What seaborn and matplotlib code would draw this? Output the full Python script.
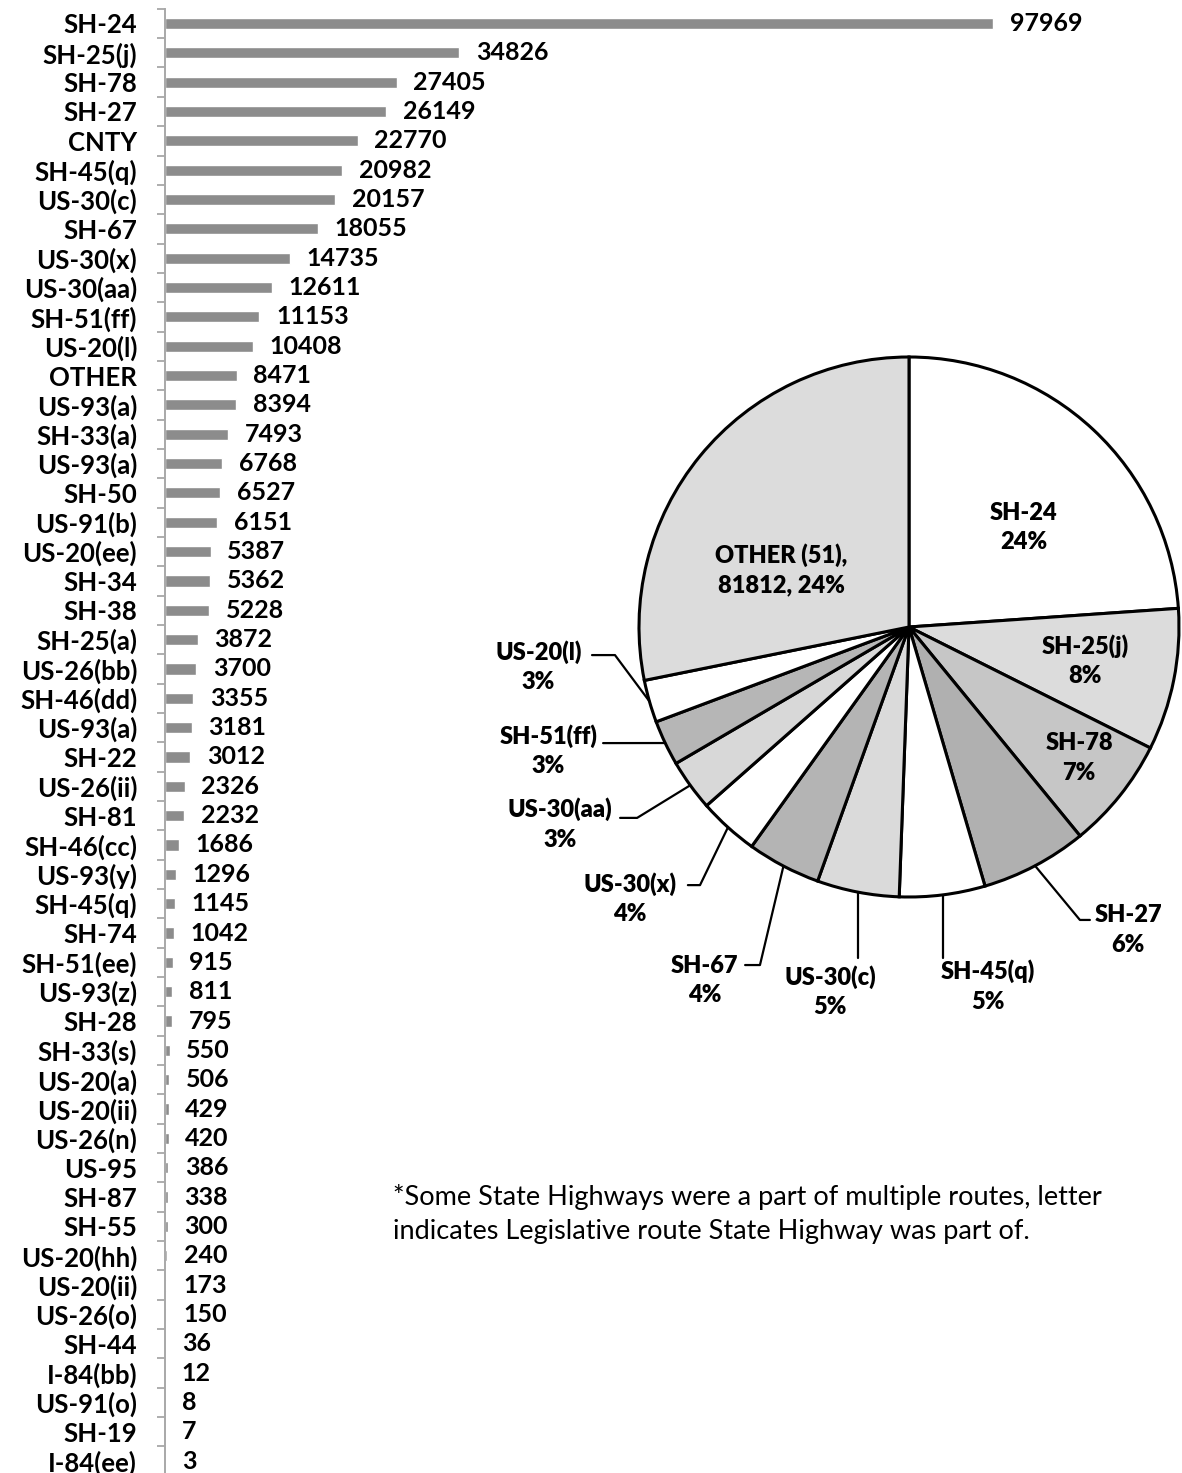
import numpy as np
import pandas as pd
import matplotlib
matplotlib.use("Agg")
import matplotlib.pyplot as plt
import seaborn as sns

# ---- bar chart data: crash counts by route ----
routes = [
    "SH-24", "SH-25(j)", "SH-78", "SH-27", "CNTY", "SH-45(q)", "US-30(c)", "SH-67",
    "US-30(x)", "US-30(aa)", "SH-51(ff)", "US-20(l)", "OTHER", "US-93(a)", "SH-33(a)",
    "US-93(a)", "SH-50", "US-91(b)", "US-20(ee)", "SH-34", "SH-38", "SH-25(a)",
    "US-26(bb)", "SH-46(dd)", "US-93(a)", "SH-22", "US-26(ii)", "SH-81", "SH-46(cc)",
    "US-93(y)", "SH-45(q)", "SH-74", "SH-51(ee)", "US-93(z)", "SH-28", "SH-33(s)",
    "US-20(a)", "US-20(ii)", "US-26(n)", "US-95", "SH-87", "SH-55", "US-20(hh)",
    "US-20(ii)", "US-26(o)", "SH-44", "I-84(bb)", "US-91(o)", "SH-19", "I-84(ee)",
]
counts = [
    97969, 34826, 27405, 26149, 22770, 20982, 20157, 18055,
    14735, 12611, 11153, 10408, 8471, 8394, 7493,
    6768, 6527, 6151, 5387, 5362, 5228, 3872,
    3700, 3355, 3181, 3012, 2326, 2232, 1686,
    1296, 1145, 1042, 915, 811, 795, 550,
    506, 429, 420, 386, 338, 300, 240,
    173, 150, 36, 12, 8, 7, 3,
]

# ---- pie chart data: the largest state routes, the rest grouped ----
pie_routes = ["SH-24", "SH-25(j)", "SH-78", "SH-27", "SH-45(q)", "US-30(c)",
              "SH-67", "US-30(x)", "US-30(aa)", "SH-51(ff)", "US-20(l)"]
pie_counts = [97969, 34826, 27405, 26149, 20982, 20157,
              18055, 14735, 12611, 11153, 10408]
other_text = "OTHER (51),\n81812, 24%"
pie_colors = ["#ffffff", "#dcdcdc", "#c6c6c6", "#b0b0b0", "#ffffff", "#dadada",
              "#b4b4b4", "#ffffff", "#d8d8d8", "#b6b6b6", "#ffffff", "#dcdcdc"]

note = ("*Some State Highways were a part of multiple routes, letter\n"
        "indicates Legislative route State Highway was part of.")

sns.set_theme(style="white")
plt.rcParams["font.family"] = ["Lato", "DejaVu Sans"]

W, H = 1182, 1473
fig = plt.figure(figsize=(W / 100, H / 100), dpi=100)
fig.patch.set_facecolor("white")

# ---------------- horizontal bar chart ----------------
row_px = 29.34
ax = fig.add_axes([165 / W, (H - 8.8 - 50 * row_px) / H, 930 / W, 50 * row_px / H])
ax.patch.set_alpha(0)
df = pd.DataFrame({"rank": np.arange(len(counts)), "count": counts})
sns.barplot(data=df, x="count", y="rank", orient="h", color="#8c8c8c",
            saturation=1, width=0.38, ax=ax)
ax.set_xlim(0, 110000)
ax.set_ylim(len(counts) - 0.5, -0.5)
ax.set_yticks(np.arange(len(routes)))
ax.set_yticklabels(routes, fontsize=18.5, fontweight="bold", color="black")
ax.tick_params(axis="y", which="major", length=0, pad=20)
ax.set_yticks(np.arange(len(routes) + 1) - 0.5, minor=True)
ax.tick_params(axis="y", which="minor", length=6, width=1.2, color="#a0a0a0",
               direction="out", left=True)
ax.set_xticks([])
ax.set_xlabel("")
ax.set_ylabel("")
for s in ["top", "right", "bottom"]:
    ax.spines[s].set_visible(False)
ax.spines["left"].set_color("#a8a8a8")
ax.spines["left"].set_linewidth(1.4)
ax.bar_label(ax.containers[0], labels=[str(v) for v in counts], padding=12,
             fontsize=18, fontweight="bold", color="black")

# ---------------- pie chart ----------------
cx, cy, r = 909, 627, 270
axp = fig.add_axes([(cx - r) / W, (H - cy - r) / H, 2 * r / W, 2 * r / H])
axp.set_zorder(3)
other_count = sum(counts) - sum(pie_counts)
values = pie_counts + [other_count]
wedges, _ = axp.pie(values, colors=pie_colors, startangle=90, counterclock=False,
                    radius=1.0,
                    wedgeprops=dict(edgecolor="black", linewidth=2.2))
axp.set_xlim(-1, 1)
axp.set_ylim(-1, 1)
axp.set_aspect("equal")
axp.axis("off")

total = sum(values)
pct = [f"{round(100 * v / total)}%" for v in pie_counts]
lab_kw = dict(fontsize=17, fontweight="heavy", ha="center", va="center",
              linespacing=1.4, color="black")

# labels placed inside their wedges
inside = {0: (0.426, 0.37), 1: (0.652, -0.126), 2: (0.63, -0.485)}
for i, (tx, ty) in inside.items():
    axp.text(tx, ty, f"{pie_routes[i]}\n{pct[i]}", **lab_kw)
axp.text(-0.474, 0.211, other_text, **lab_kw)

# labels outside with leader lines: (elbow, end-of-leader, text centre)
outside = {
    3: ((0.633, -1.085), (0.670, -1.085), (0.812, -1.122)),
    4: (None, None, (0.293, -1.33)),
    5: (None, None, (-0.293, -1.35)),
    6: ((-0.552, -1.252), (-0.607, -1.252), (-0.756, -1.31)),
    7: ((-0.774, -0.956), (-0.819, -0.956), (-1.033, -1.007)),
    8: ((-1.007, -0.707), (-1.07, -0.707), (-1.293, -0.73)),
    9: (None, (-1.133, -0.43), (-1.335, -0.459)),
    10: ((-1.089, -0.104), (-1.174, -0.104), (-1.372, -0.148)),
}
for i, (elbow, end, (tx, ty)) in outside.items():
    w = wedges[i]
    mid = np.deg2rad((w.theta1 + w.theta2) / 2)
    x0, y0 = np.cos(mid), np.sin(mid)
    if elbow is None and end is None:
        xs, ys = [x0, x0], [y0, -1.226]
    elif elbow is None:
        xs, ys = [x0, end[0]], [y0, end[1]]
    else:
        xs, ys = [x0, elbow[0], end[0]], [y0, elbow[1], end[1]]
    axp.plot(xs, ys, color="black", lw=1.6, clip_on=False)
    axp.text(tx, ty, f"{pie_routes[i]}\n{pct[i]}", **lab_kw)

# ---------------- footnote ----------------
fig.text(393 / W, 1 - 1214 / H, note, fontsize=19.5, ha="left", va="center",
         linespacing=1.4, color="black")

fig.savefig("out.png", dpi=100, facecolor="white")
